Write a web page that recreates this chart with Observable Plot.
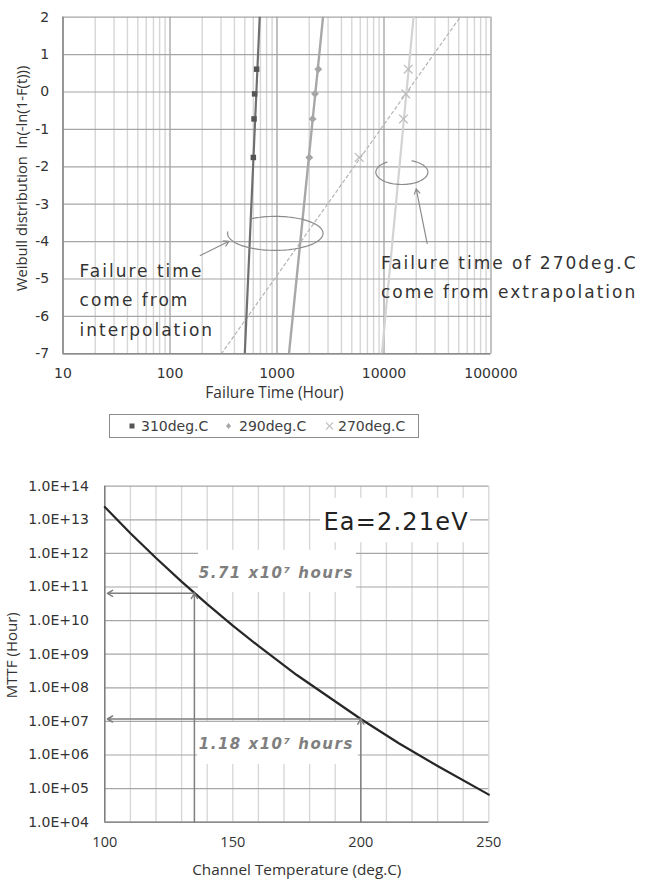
<!DOCTYPE html>
<html><head><meta charset="utf-8">
<script src="https://cdn.jsdelivr.net/npm/d3@7"></script>
<script src="https://cdn.jsdelivr.net/npm/@observablehq/plot@0.6"></script>
<style>
body{margin:0;background:#fff;}
#wrap{position:relative;width:655px;height:881px;overflow:hidden;}
#chartTop{position:absolute;left:0;top:0;}
#legend{position:absolute;left:109px;top:414px;width:308px;height:22px;border:1px solid #8c8c8c;font:14px "DejaVu Sans",sans-serif;color:#404040;}
#legend .it{position:absolute;top:0;height:22px;line-height:22px;white-space:nowrap;}
#legend svg{position:absolute;top:6px;}
#chartBottom{position:absolute;left:0;top:450px;}
</style></head>
<body><div id="wrap"><div id="chartTop"></div><div id="legend"></div><div id="chartBottom"></div></div>
<script>
// ---------- Top chart data (Weibull plot) ----------
const weibullY = [-1.75, -0.72, -0.05, 0.61];
const hours310 = [601, 610, 618, 645];
const hours290 = [2003, 2152, 2265, 2432];
const hours270 = [5865, 15200, 15990, 16830];
const fitY = [-7, 2];
const fitX310 = [500, 689];
const fitX290 = [1294, 2693];
const fitX270 = [9550, 18880];
const dashX270 = [302, 51400];
const seriesNames = ["310deg.C", "290deg.C", "270deg.C"];
const xTicksTop = [10, 100, 1000, 10000, 100000];
const yTicksTop = [-7, -6, -5, -4, -3, -2, -1, 0, 1, 2];
const noteLeft = "Failure time\ncome from\ninterpolation";
const noteRight = "Failure time of 270deg.C\ncome from extrapolation";

// ---------- Bottom chart data (MTTF vs temperature) ----------
const tempC = [100, 110, 120, 130, 140, 150, 160, 175, 200, 215, 230, 250];
const mttfHours = [2.4e13, 4.0e12, 7.3e11, 1.45e11, 3.1e10, 7.1e9, 1.76e9, 2.4e8, 1.18e7, 2.2e6, 4.7e5, 6.6e4];
const xTicksBottom = [100, 150, 200, 250];
const yExpBottom = [4, 5, 6, 7, 8, 9, 10, 11, 12, 13, 14];
const markTemps = [135, 200];
const markMTTF = [6.5e10, 1.18e7];
const labelMTTF = ["5.71 x10\u2077 hours", "1.18 x10\u2077 hours"];
const eaLabel = "Ea=2.21eV";

const titleFont = "'Open Sans', sans-serif";
const tickFont = "'DejaVu Sans', sans-serif";

// ellipse helper (annotation shape)
function ellipse(cxLog, cy, rxDec, ry, a0, a1) {
  const pts = [];
  for (let i = 0; i <= 80; i++) {
    const a = (a0 + (a1 - a0) * i / 80) * Math.PI / 180;
    pts.push({x: 10 ** (cxLog + rxDec * Math.cos(a)), y: cy + ry * Math.sin(a)});
  }
  return pts;
}
const pair = (xs, ys) => xs.map((x, i) => ({x, y: ys[i]}));
const minorX = d3.range(1, 5).flatMap(e => d3.range(2, 10).map(m => m * 10 ** e));

const topChart = Plot.plot({
  width: 655, height: 405,
  marginLeft: 62.5, marginRight: 164.5, marginTop: 16.7, marginBottom: 51.7,
  style: {fontFamily: tickFont, fontSize: "14px", color: "#333", background: "white", overflow: "visible"},
  x: {type: "log", domain: [10, 100000]},
  y: {domain: [-7, 2]},
  marks: [
    Plot.ruleX(minorX, {stroke: "#d6d6d6", strokeWidth: 1.4}),
    Plot.ruleX(xTicksTop, {stroke: "#8f8f8f", strokeWidth: 1.1}),
    Plot.ruleY(yTicksTop, {stroke: "#a6a6a6", strokeWidth: 1.2}),
    Plot.ruleX([10], {stroke: "#8c8c8c", strokeWidth: 1.6}),
    Plot.ruleY([-7], {stroke: "#8c8c8c", strokeWidth: 1.6}),
    Plot.axisX(xTicksTop, {tickSize: 0, tickPadding: 14.5, tickFormat: d => String(d), label: null, fontSize: 14, fontFamily: tickFont, fill: "#333"}),
    Plot.axisY(yTicksTop, {tickSize: 0, tickPadding: 13.8, tickFormat: d => d < 0 ? "-" + Math.abs(d) : String(d), label: null, fontSize: 14, fontFamily: tickFont, fill: "#333"}),
    Plot.text(["Failure Time (Hour)"], {frameAnchor: "bottom", dy: 44.5, dx: -2.5, textAnchor: "middle", fontFamily: titleFont, fontSize: 15.5, fill: "#333"}),
    Plot.text(["Weibull distribution\u00a0\u00a0ln(-ln(1-F(t)))"], {frameAnchor: "left", rotate: -90, dx: -40.5, dy: -7, textAnchor: "middle", fontFamily: titleFont, fontSize: 14.8, fill: "#333"}),
    // fits
    Plot.line(pair(dashX270, fitY), {x: "x", y: "y", stroke: "#b4b4b4", strokeWidth: 1.2, strokeDasharray: "3,3", clip: true}),
    Plot.line(pair(fitX270, fitY), {x: "x", y: "y", stroke: "#d3d3d3", strokeWidth: 2.2, clip: true}),
    Plot.line(pair(fitX290, fitY), {x: "x", y: "y", stroke: "#a8a8a8", strokeWidth: 2.4, clip: true}),
    Plot.line(pair(fitX310, fitY), {x: "x", y: "y", stroke: "#6f6f6f", strokeWidth: 2.2, clip: true}),
    // points
    Plot.dot(pair(hours270, weibullY), {x: "x", y: "y", symbol: "times", stroke: "#bdbdbd", r: 4, strokeWidth: 1.3}),
    Plot.dot(pair(hours290, weibullY), {x: "x", y: "y", symbol: "diamond2", fill: "#a6a6a6", stroke: "#a6a6a6", r: 2.6}),
    Plot.dot(pair(hours310, weibullY), {x: "x", y: "y", symbol: "square", fill: "#555555", r: 3.1}),
    // annotations
    Plot.line(ellipse(2.984, -3.78, 0.446, 0.455, 175, 480), {x: "x", y: "y", stroke: "#8c8c8c", strokeWidth: 1.2, curve: "catmull-rom"}),
    Plot.line(ellipse(4.167, -2.144, 0.243, 0.329, 125, 427), {x: "x", y: "y", stroke: "#8c8c8c", strokeWidth: 1.2, curve: "catmull-rom"}),
    Plot.arrow([{x1: 192, y1: -4.37, x2: 356, y2: -3.99}], {x1: "x1", y1: "y1", x2: "x2", y2: "y2", stroke: "#8c8c8c", strokeWidth: 1.2, headLength: 7}),
    Plot.arrow([{x1: 25300, y1: -4.05, x2: 20000, y2: -2.59}], {x1: "x1", y1: "y1", x2: "x2", y2: "y2", stroke: "#8c8c8c", strokeWidth: 1.2, headLength: 7}),
    Plot.text([noteLeft], {x: 14.3, y: -5.48, text: d => d, textAnchor: "start", lineAnchor: "middle", lineHeight: 1.72, fontSize: 17, fontFamily: tickFont, fill: "#333"}),
    Plot.text([noteRight], {x: 9360, y: -4.87, text: d => d, textAnchor: "start", lineAnchor: "middle", lineHeight: 1.72, fontSize: 17, fontFamily: tickFont, fill: "#333"})
  ]
});
d3.select(topChart).selectAll('g[font-size="17"] text').attr("letter-spacing", "2px");
document.getElementById("chartTop").appendChild(topChart);

// legend
const legendPos = [[22, 31], [118.7, 129], [219, 228]];
const legendSym = [
  '<rect x="1.5" y="2.5" width="5" height="5" fill="#555"/>',
  '<path d="M4.5 2 L7 5 L4.5 8 L2 5 Z" fill="#a6a6a6"/>',
  '<path d="M1 1.5 L8 8.5 M8 1.5 L1 8.5" stroke="#c4c4c4" stroke-width="1.2"/>'
];
const lg = document.getElementById("legend");
seriesNames.forEach((name, i) => {
  const s = document.createElement("div");
  s.className = "it";
  s.style.left = (legendPos[i][0] - 4.5) + "px";
  s.innerHTML = `<svg width="9" height="10" style="left:0">${legendSym[i]}</svg>`;
  lg.appendChild(s);
  const t = document.createElement("div");
  t.className = "it";
  t.style.left = legendPos[i][1] + "px";
  t.textContent = name;
  lg.appendChild(t);
});

// bottom chart
const yTicksBottom = yExpBottom.map(e => 10 ** e);
const curveData = pair(tempC, mttfHours);
const gridTemps = d3.range(110, 260, 10);
const markData = markTemps.map((t, i) => ({t, v: markMTTF[i]}));
const bottomChart = Plot.plot({
  width: 655, height: 431,
  marginLeft: 104.3, marginRight: 166.7, marginTop: 35.7, marginBottom: 59.3,
  style: {fontFamily: tickFont, fontSize: "14px", color: "#333", background: "white", overflow: "visible"},
  x: {domain: [100, 250]},
  y: {type: "log", domain: [1e4, 1e14]},
  marks: [
    Plot.ruleX(gridTemps, {stroke: "#d6d6d6", strokeWidth: 1.3}),
    Plot.ruleY(yTicksBottom, {stroke: "#a6a6a6", strokeWidth: 1.2}),
    Plot.ruleX([100], {stroke: "#7f7f7f", strokeWidth: 1.6}),
    Plot.ruleY([1e4], {stroke: "#8c8c8c", strokeWidth: 1.6}),
    // white label boxes
    Plot.rect([
      {x1: 136.6, x2: 198.3, y1: 10 ** 10.84, y2: 10 ** 12.09},
      {x1: 136.3, x2: 199.0, y1: 10 ** 5.72, y2: 10 ** 6.97},
      {x1: 184.3, x2: 242.9, y1: 10 ** 12.32, y2: 10 ** 13.64}
    ], {x1: "x1", x2: "x2", y1: "y1", y2: "y2", fill: "white"}),
    Plot.axisX(xTicksBottom, {tickSize: 0, tickPadding: 14.5, label: null, fontSize: 14.5, fontFamily: titleFont, fill: "#333"}),
    Plot.axisY(yTicksBottom, {tickSize: 0, tickPadding: 16, label: null, fontSize: 14, fontFamily: tickFont, fill: "#333",
      tickFormat: d => "1.0E+" + String(Math.round(Math.log10(d))).padStart(2, "0")}),
    Plot.text(["Channel Temperature (deg.C)"], {frameAnchor: "bottom", dy: 52.5, textAnchor: "middle", fontFamily: titleFont, fontSize: 15.3, fill: "#333"}),
    Plot.text(["MTTF (Hour)"], {frameAnchor: "left", rotate: -90, dx: -92.3, dy: 1, textAnchor: "middle", fontFamily: titleFont, fontSize: 15, fill: "#333"}),
    Plot.line(curveData, {x: "x", y: "y", stroke: "#262626", strokeWidth: 2.2}),
    // marker arrows
    Plot.arrow(markData, {x1: "t", y1: () => 1e4, x2: "t", y2: "v", stroke: "#7f7f7f", strokeWidth: 1.5, headLength: 6}),
    Plot.arrow(markData, {x1: "t", y1: "v", x2: () => 101, y2: "v", stroke: "#7f7f7f", strokeWidth: 1.5, headLength: 6}),
    Plot.text(labelMTTF.map((s, i) => ({s, v: i === 0 ? 10 ** 11.41 : 10 ** 6.31})), {x: () => 136.7, y: "v", text: "s", textAnchor: "start", fontSize: 15, fontWeight: "bold", fontStyle: "italic", fontFamily: tickFont, fill: "#7f7f7f"}),
    Plot.text([eaLabel], {x: 185.4, y: 10 ** 12.92, text: d => d, textAnchor: "start", fontSize: 24, fontFamily: tickFont, fill: "#222"})
  ]
});
d3.select(bottomChart).selectAll('g[font-weight="bold"] text').attr("letter-spacing", "1.5px");
d3.select(bottomChart).selectAll('g[font-size="24"] text').attr("letter-spacing", "1.2px");
document.getElementById("chartBottom").appendChild(bottomChart);
</script>
</body></html>
